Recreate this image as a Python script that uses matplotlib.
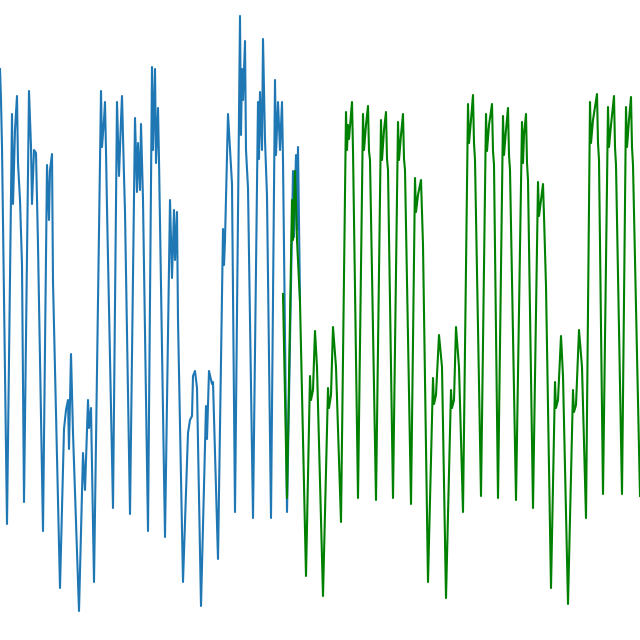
import matplotlib
matplotlib.use("Agg")
import matplotlib.pyplot as plt

hist_t = [0, 1, 2, 7,
          12, 13, 15, 17, 18, 20, 22, 24,
          29, 31, 32, 34, 36, 38, 43,
          47, 49, 50, 52, 53, 60,
          64, 66, 68, 69, 71, 73, 79,
          83, 85, 88, 89, 91, 94,
          101, 102, 104, 105, 106, 107, 113,
          117, 119, 121, 122, 124, 125, 130,
          135, 137, 138, 140, 141, 143, 148,
          152, 153, 155, 156, 158, 159, 165,
          170, 172, 174, 175, 177, 178, 183,
          188, 190, 192, 193, 195, 197, 201,
          206, 207, 209, 212, 213, 218,
          223, 224, 225, 228, 232, 235,
          240, 241, 242, 243, 245, 246, 248, 253,
          258, 259, 260, 262, 263, 265, 267, 271,
          275, 276, 278, 280, 282, 283, 287,
          293, 294, 296, 297, 298, 300]
hist_v = [69, 100, 147, 524,
          114, 204, 130, 96, 163, 200, 265, 502,
          91, 147, 204, 150, 153, 245, 531,
          165, 220, 170, 154, 282, 588,
          429, 410, 400, 449, 354, 433, 611,
          453, 490, 400, 428, 408, 582,
          91, 147, 120, 102, 151, 208, 508,
          102, 176, 120, 96, 176, 212, 514,
          118, 192, 143, 190, 124, 200, 531,
          67, 150, 69, 163, 108, 160, 537,
          200, 278, 210, 260, 212, 320, 582,
          433, 420, 416, 376, 371, 388, 606,
          406, 439, 371, 384, 382, 559,
          229, 265, 240, 114, 184, 512,
          16, 135, 69, 100, 41, 150, 188, 518,
          102, 159, 92, 150, 39, 140, 196, 518,
          80, 155, 102, 150, 102, 160, 512,
          171, 237, 155, 230, 147, 300]

# predicted series
pred_t = [283, 287, 292, 293, 295, 297, 300, 306,
          310, 311, 313, 315, 317, 323,
          328, 329, 331, 333, 336, 341,
          346, 347, 348, 349, 352, 353, 358,
          363, 364, 366, 368, 369, 370, 376,
          381, 382, 384, 386, 387, 388, 393,
          398, 399, 401, 403, 404, 405, 411,
          415, 416, 418, 421, 422, 423, 428,
          433, 434, 436, 439, 442, 446,
          451, 452, 454, 456, 459, 463,
          468, 469, 471, 473, 474, 475, 481,
          486, 487, 489, 492, 493, 494, 498,
          503, 504, 506, 508, 509, 510, 516,
          522, 523, 524, 526, 527, 528, 533,
          538, 539, 541, 543, 544, 546, 551,
          555, 556, 558, 561, 563, 568,
          573, 574, 576, 579, 582, 586,
          590, 591, 593, 597, 598, 599, 603,
          608, 609, 611, 614, 615, 616, 622,
          626, 627, 629, 631, 632, 633, 640]
pred_v = [294, 498, 200, 240, 171, 240, 302, 576,
          376, 400, 390, 331, 367, 596,
          388, 408, 395, 327, 367, 522,
          112, 150, 125, 139, 102, 150, 498,
          114, 150, 125, 106, 151, 160, 500,
          120, 160, 130, 112, 159, 170, 498,
          122, 160, 135, 114, 159, 170, 504,
          178, 212, 195, 180, 212, 245, 582,
          378, 404, 395, 335, 367, 598,
          390, 408, 400, 327, 367, 512,
          104, 143, 120, 95, 143, 160, 496,
          114, 151, 125, 104, 151, 165, 498,
          116, 155, 130, 108, 155, 170, 500,
          122, 163, 135, 114, 163, 180, 508,
          182, 216, 200, 184, 216, 286, 588,
          382, 408, 400, 336, 376, 604,
          390, 412, 405, 330, 367, 518,
          102, 143, 120, 94, 143, 160, 494,
          107, 147, 125, 96, 147, 165, 494,
          107, 147, 120, 97, 147, 165, 496]

fig = plt.figure(figsize=(6.4, 6.4), dpi=100)
ax = fig.add_axes([0, 0, 1, 1])
ax.plot(hist_t, hist_v, color="tab:blue", lw=1.5)
ax.plot(pred_t, pred_v, color="green", lw=1.5)
ax.set_xlim(0, 640)
ax.set_ylim(640, 0)
ax.axis("off")

fig.savefig("out.png", dpi=100)
